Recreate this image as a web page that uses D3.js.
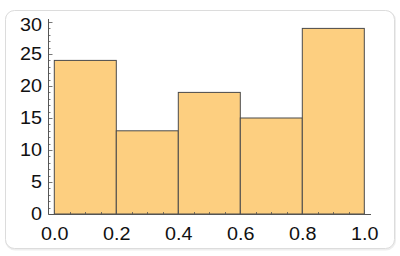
<!DOCTYPE html>
<html>
  <head>
    <meta http-equiv="Content-Type" content="text/html; charset=UTF-8">
    <script type="text/javascript" src="https://cdn.jsdelivr.net/npm/d3@7/dist/d3.min.js"></script>
    <style>
      body { margin: 0; background: #fff; }
      #chart { width: 400px; height: 256px; }
    </style>
  </head>
  <body>
    <div id="chart"></div>
    <script>
// bins and counts
var binEdges = [0.0, 0.2, 0.4, 0.6, 0.8, 1.0];
var counts = [24, 13, 19, 15, 29];
var xTicks = [0.0, 0.2, 0.4, 0.6, 0.8, 1.0];
var yTicks = [0, 5, 10, 15, 20, 25, 30];

var width = 400, height = 256;
var svg = d3.select("#chart").append("svg")
    .attr("width", width)
    .attr("height", height);

// card frame with a faint shadow
svg.append("rect")
    .attr("x", 6).attr("y", 11.5)
    .attr("width", 389).attr("height", 238)
    .attr("rx", 9).attr("ry", 9)
    .attr("fill", "none")
    .attr("stroke", "#eeeeee")
    .attr("stroke-width", 2);
svg.append("rect")
    .attr("x", 5.5).attr("y", 10.5)
    .attr("width", 389).attr("height", 238)
    .attr("rx", 9).attr("ry", 9)
    .attr("fill", "#fff")
    .attr("stroke", "#dcdcdc")
    .attr("stroke-width", 1);

var x = d3.scaleLinear().domain([0, 1]).range([54.3, 364.3]);
var y = d3.scaleLinear().domain([0, 30]).range([214, 22]);

var bins = counts.map(function (c, i) {
  return { x0: binEdges[i], x1: binEdges[i + 1], n: c };
});

// bars
svg.append("g").selectAll("rect")
    .data(bins)
  .enter().append("rect")
    .attr("x", function (d) { return x(d.x0); })
    .attr("y", function (d) { return y(d.n); })
    .attr("width", function (d) { return x(d.x1) - x(d.x0); })
    .attr("height", function (d) { return y(0) - y(d.n); })
    .attr("fill", "#fdcf80")
    .attr("stroke", "#4a4a4a")
    .attr("stroke-width", 1);

var axisColor = "#555";
var axisX0 = 48.5;

// x axis line
svg.append("line")
    .attr("x1", axisX0).attr("x2", 371)
    .attr("y1", y(0) + 0.5).attr("y2", y(0) + 0.5)
    .attr("stroke", axisColor).attr("stroke-width", 1);

// y axis line
svg.append("line")
    .attr("x1", axisX0).attr("x2", axisX0)
    .attr("y1", 19).attr("y2", y(0) + 0.5)
    .attr("stroke", axisColor).attr("stroke-width", 1);

// x minor ticks (every 0.05), major at tick labels
var xMinor = d3.range(-0.05, 1.0001, 0.05).filter(function (v) { return x(v) >= axisX0; });
svg.append("g").selectAll("line")
    .data(xMinor)
  .enter().append("line")
    .attr("x1", function (d) { return Math.round(x(d)) + 0.5; })
    .attr("x2", function (d) { return Math.round(x(d)) + 0.5; })
    .attr("y1", y(0))
    .attr("y2", function (d) {
      var major = xTicks.some(function (t) { return Math.abs(t - d) < 1e-6; });
      return y(0) - (major ? 4 : 2);
    })
    .attr("stroke", axisColor).attr("stroke-width", 0.8);

// y minor ticks (every 1), major every 5
var yMinor = d3.range(0, 31, 1);
svg.append("g").selectAll("line")
    .data(yMinor)
  .enter().append("line")
    .attr("x1", axisX0)
    .attr("x2", function (d) { return axisX0 + (d % 5 === 0 ? 4 : 2); })
    .attr("y1", function (d) { return Math.round(y(d)) + 0.5; })
    .attr("y2", function (d) { return Math.round(y(d)) + 0.5; })
    .attr("stroke", axisColor).attr("stroke-width", 0.8);

// tick labels (the reference face is wider than Liberation Sans, so stretch a bit)
var font = "Liberation Sans, Arial, sans-serif";
svg.append("g").selectAll("text")
    .data(xTicks)
  .enter().append("text")
    .attr("transform", function (d) { return "translate(" + (x(d) + 0.4) + ",240) scale(1.13,1)"; })
    .attr("text-anchor", "middle")
    .attr("font-family", font)
    .attr("font-size", "17.5px")
    .attr("fill", "#111")
    .text(function (d) { return d3.format(".1f")(d); });

// the top label sits a little lower, as in the reference
svg.append("g").selectAll("text")
    .data(yTicks)
  .enter().append("text")
    .attr("transform", function (d) { return "translate(42," + Math.max(y(d) + 6.3, 31.3) + ") scale(1.13,1)"; })
    .attr("text-anchor", "end")
    .attr("font-family", font)
    .attr("font-size", "17.5px")
    .attr("fill", "#111")
    .text(function (d) { return d; });
    </script>
  </body>
</html>
